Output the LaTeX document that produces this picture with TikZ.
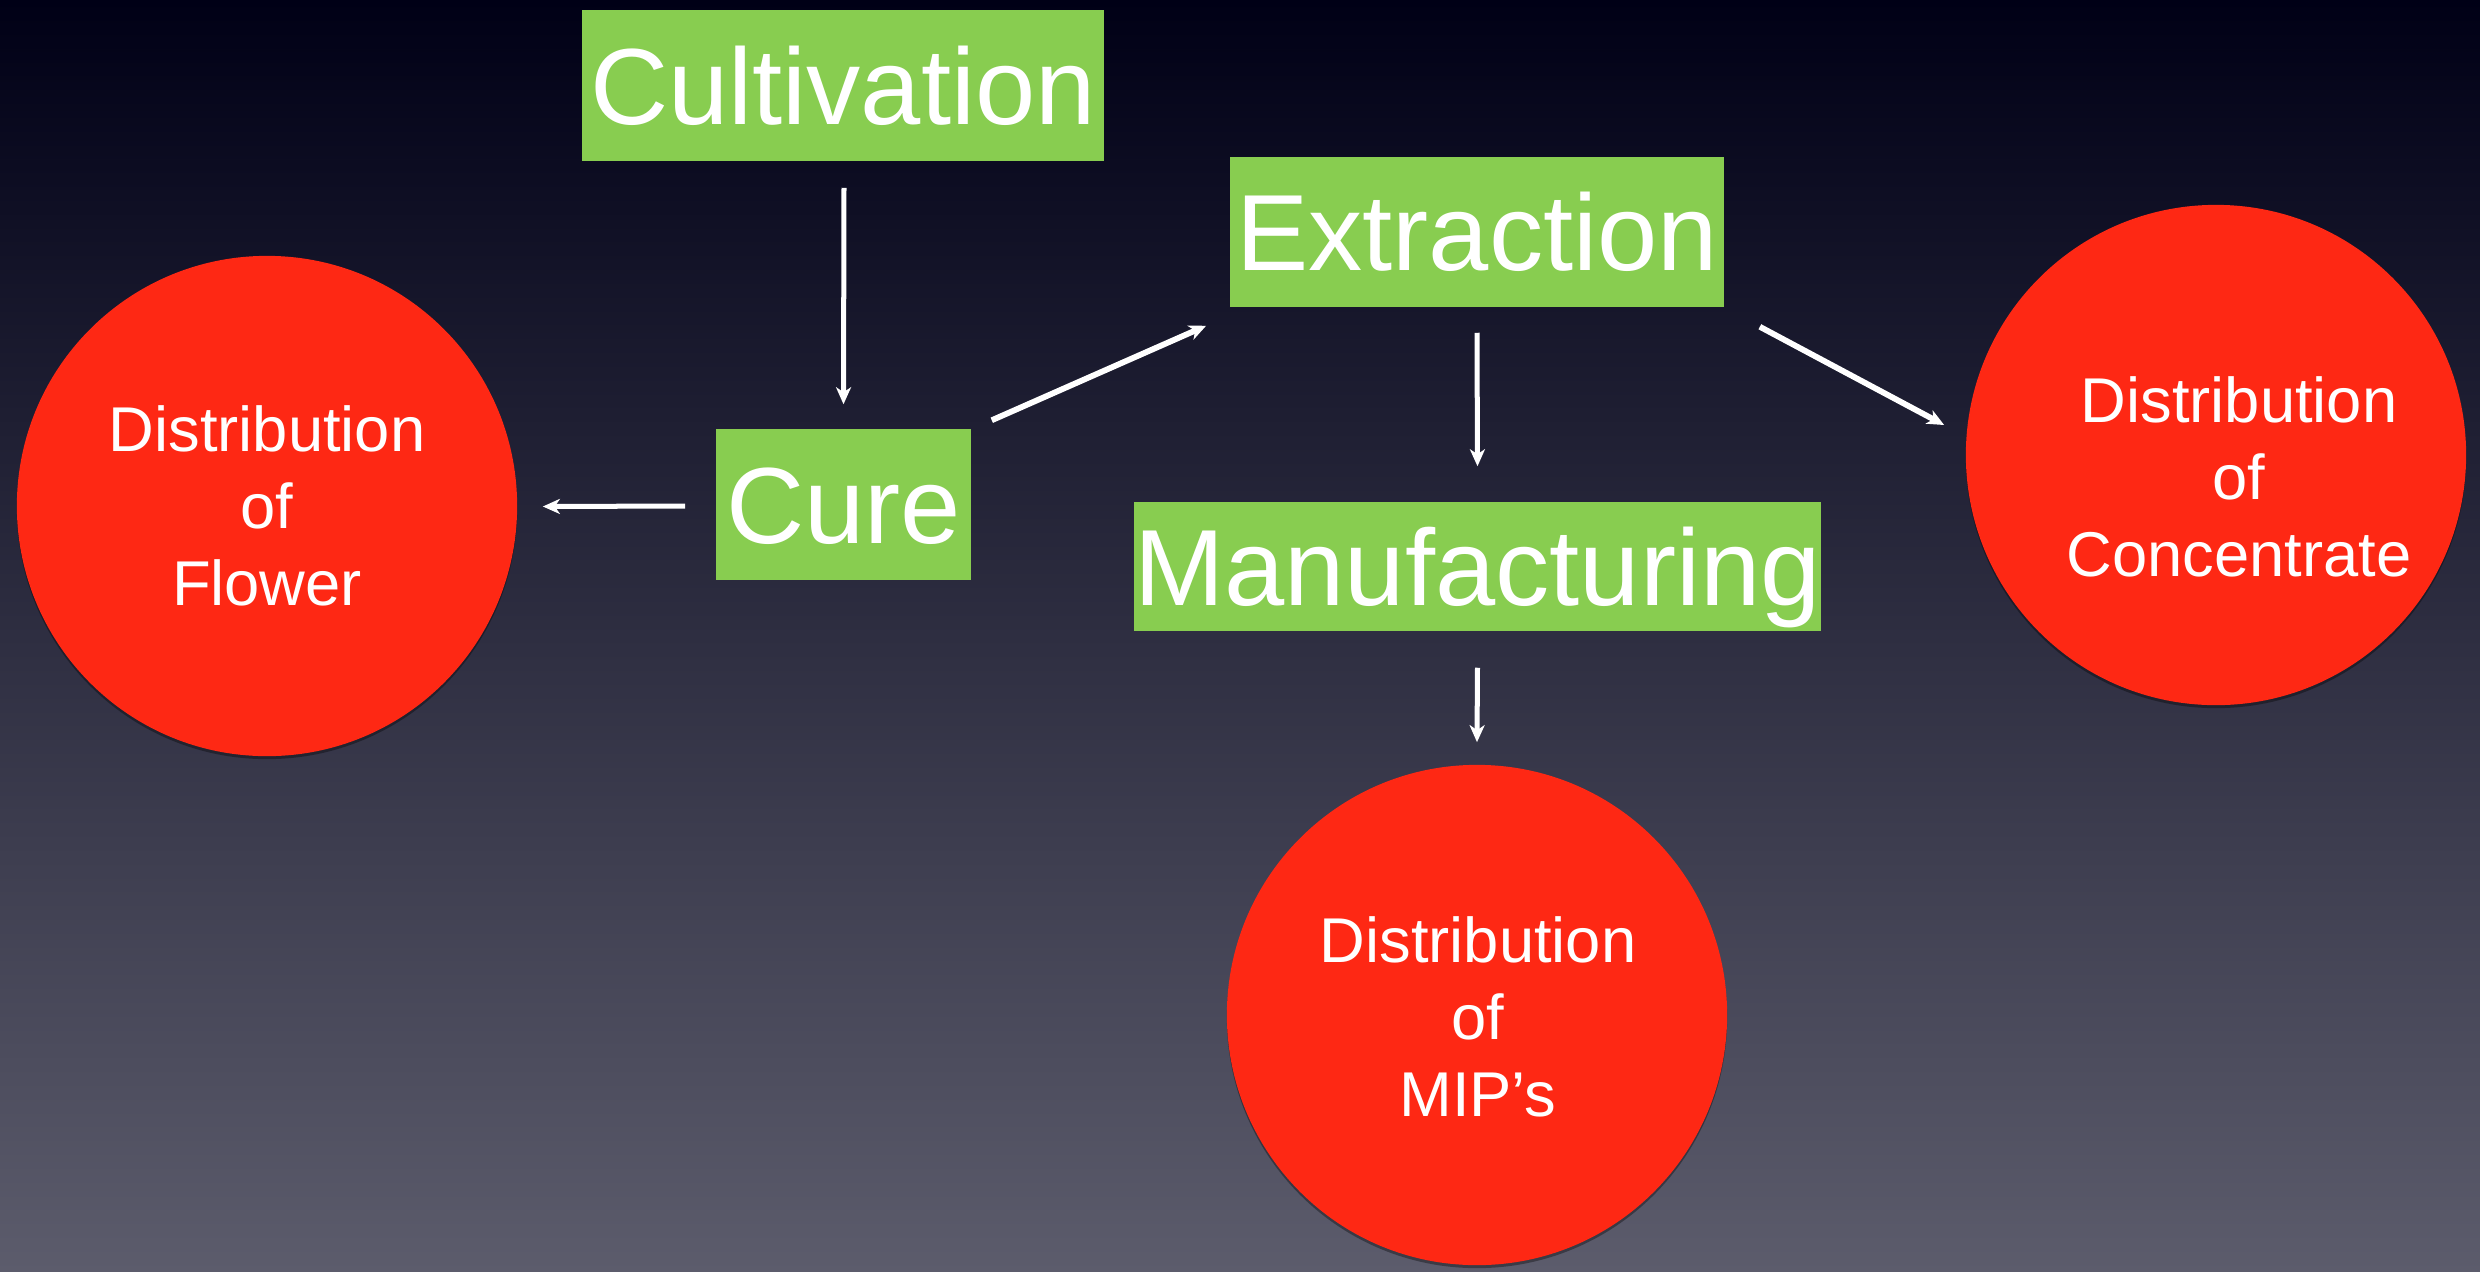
\documentclass[tikz,border=0pt]{standalone}
\usepackage{fontspec}
\setmainfont{Liberation Sans}
\usetikzlibrary{arrows.meta,shadows}
\definecolor{boxgreen}{RGB}{136,205,80}
\definecolor{circred}{RGB}{254,40,20}
\definecolor{bgtop}{RGB}{0,0,22}
\definecolor{bgbot}{RGB}{92,92,108}
\tikzset{
  stagebox/.style={fill=boxgreen, text=white, inner sep=0pt,
    font=\fontsize{30.8pt}{37pt}\selectfont, text height=22.0pt, text depth=0pt},
  distcircle/.style={circle, fill=circred, minimum size=5cm, inner sep=0pt,
    drop shadow={shadow xshift=0cm, shadow yshift=-0.03cm, opacity=0.35, fill=black}},
  disttext/.style={text=white, align=center, inner sep=0pt,
    font=\fontsize{18pt}{21.8pt}\selectfont},
  flowarrow/.style={draw=white, line width=0.05cm,
    -{Stealth[length=0.17cm, width=0.15cm, inset=0.05cm]}},
  diagarrow/.style={flowarrow, line width=0.058cm}
}
\begin{document}
\begin{tikzpicture}[x=0.01cm, y=-0.01cm]
\useasboundingbox (0,0) rectangle (2480,1272);
\shade[top color=bgtop, bottom color=bgbot] (0,0) rectangle (2480,1272);

% stage boxes
\node[stagebox, minimum width=5.22cm, minimum height=1.51cm] (cult) at (843,85.5) {Cultivation};
\node[stagebox, minimum width=4.94cm, minimum height=1.50cm] (extr) at (1477,232) {Extraction};
\node[stagebox, minimum width=2.55cm, minimum height=1.51cm] (cure) at (843.5,504.5) {Cure};
\node[stagebox, minimum width=6.83cm, minimum height=1.29cm] (manu) at (1477.5,566.5) {Manufacturing};

% distribution circles
\node[distcircle] (flower) at (267,506) {};
\node[distcircle] (conc) at (2216,455) {};
\node[distcircle] (mip) at (1477,1015) {};

\node[disttext] (flowertext) at (267,506) {Distribution\\of\\Flower};
\node[disttext] (conctext) at (2239,477) {Distribution\\of\\Concentrate};
\node[disttext] (miptext) at (1478,1017) {Distribution\\of\\MIP’s};

% connectors
\draw[flowarrow] ([shift={(1,26)}]cult.south) -- ([shift={(0,-24)}]cure.north);
\draw[flowarrow] ([shift={(-30,1.5)}]cure.west) -- ([shift={(25,0.5)}]flower.east);
\draw[diagarrow] ([shift={(20,-8)}]cure.north east) -- ([shift={(-23,18)}]extr.south west);
\draw[flowarrow] ([shift={(0,25)}]extr.south) -- ([shift={(0,-35)}]manu.north);
\draw[diagarrow] ([shift={(35,19)}]extr.south east) -- ([shift={(-21,-30)}]conc.west);
\draw[flowarrow] ([shift={(0,36)}]manu.south) -- ([shift={(0,-22)}]mip.north);
\end{tikzpicture}
\end{document}
